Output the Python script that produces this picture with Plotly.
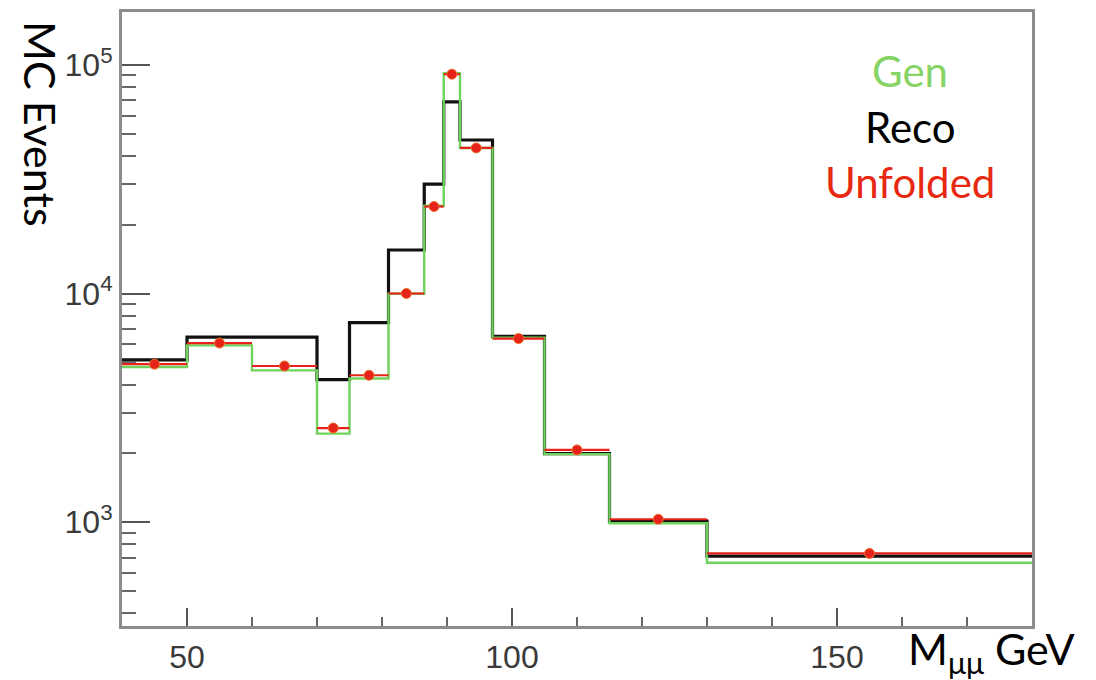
import plotly.graph_objects as go

# Dimuon invariant mass binning (GeV) and event counts per bin
bin_edges = [40, 50, 60, 70, 75, 81, 86.5, 89.5, 92, 97, 105, 115, 130, 180]
gen_counts = [4770, 5930, 4610, 2440, 4250, 9970, 24200, 92000, 43300, 6400, 1985, 990, 665]
reco_counts = [5130, 6440, 6440, 4200, 7460, 15500, 30100, 68800, 46900, 6500, 1995, 1010, 710]
unfolded_counts = [4910, 6070, 4820, 2580, 4390, 10000, 24000, 91000, 43300, 6350, 2070, 1030, 730]

y_tick_vals = [1e3, 1e4, 1e5]
y_tick_text = ["10<sup>3</sup>", "10<sup>4</sup>", "10<sup>5</sup>"]
x_tick_vals = [50, 100, 150]

GREEN = "#6fd35c"
RED = "#e5231b"
FRAME = "#8c8c8c"

centers = [(a + b) / 2 for a, b in zip(bin_edges[:-1], bin_edges[1:])]
half_widths = [(b - a) / 2 for a, b in zip(bin_edges[:-1], bin_edges[1:])]


def step_y(vals):
    return list(vals) + [vals[-1]]


minor_y = [m * 10 ** k for k in (2, 3, 4, 5) for m in range(2, 10)]

fig = go.Figure()

fig.add_trace(go.Scatter(
    x=bin_edges, y=step_y(reco_counts), mode="lines", line_shape="hv",
    line=dict(color="#111111", width=3.2), name="Reco", showlegend=False))

fig.add_trace(go.Scatter(
    x=bin_edges, y=step_y(gen_counts), mode="lines", line_shape="hv",
    line=dict(color=GREEN, width=2.4), name="Gen", showlegend=False))

fig.add_trace(go.Scatter(
    x=centers, y=unfolded_counts, mode="markers",
    marker=dict(color=RED, size=10, line=dict(color="#f0702a", width=1)),
    error_x=dict(type="data", array=half_widths, color=RED, thickness=2.2, width=0),
    name="Unfolded", showlegend=False))

tick_family = "Liberation Sans"

fig.update_layout(
    width=1096, height=680,
    margin=dict(l=122, r=64, t=12, b=54),
    paper_bgcolor="white", plot_bgcolor="white",
    font=dict(family=tick_family, color="#333333"),
)

fig.update_xaxes(
    range=[40, 180], showgrid=False, zeroline=False, automargin=False,
    showline=True, linecolor=FRAME, linewidth=3, mirror=True,
    tickmode="array", tickvals=x_tick_vals,
    ticks="inside", ticklen=18, tickwidth=2, tickcolor="#555555",
    tickfont=dict(family=tick_family, size=32, color="#3a3a3a"), ticklabelstandoff=1,
    minor=dict(dtick=10, tick0=0, ticks="inside", ticklen=9, tickwidth=2,
               tickcolor="#666666", showgrid=False),
)

fig.update_yaxes(
    type="log", range=[2.546, 5.231], showgrid=False, zeroline=False, automargin=False,
    showline=True, linecolor=FRAME, linewidth=3, mirror=True,
    tickmode="array", tickvals=y_tick_vals, ticktext=y_tick_text,
    ticks="inside", ticklen=28, tickwidth=2, tickcolor="#555555",
    tickfont=dict(family=tick_family, size=32, color="#3a3a3a"),
    minor=dict(tickmode="array", tickvals=minor_y, ticks="inside", ticklen=14,
               tickwidth=2, tickcolor="#666666", showgrid=False),
)

label_font = "Lato, Open Sans, sans-serif"

# Legend as coloured text
for text, color, ypix in [("Gen", "#86d465", 71), ("Reco", "#000000", 127), ("Unfolded", "#e82810", 182)]:
    fig.add_annotation(
        text=text, xref="paper", yref="paper",
        x=(910 - 122) / 910, y=1 - (ypix - 12) / 614,
        xanchor="center", yanchor="middle", showarrow=False,
        font=dict(family=label_font, size=42, color=color))

# Axis titles
fig.add_annotation(
    text="MC Events", xref="paper", yref="paper",
    x=(40 - 122) / 910, y=1 - (124 - 12) / 614,
    xanchor="center", yanchor="middle", showarrow=False, textangle=90,
    font=dict(family=label_font, size=43, color="#000000"))

fig.add_annotation(
    text="M<sub>μμ</sub> GeV", xref="paper", yref="paper",
    x=(1077 - 122) / 910, y=1 - (651 - 12) / 614,
    xanchor="right", yanchor="middle", showarrow=False,
    font=dict(family=label_font, size=43, color="#000000"))

fig.write_html("out.html")
